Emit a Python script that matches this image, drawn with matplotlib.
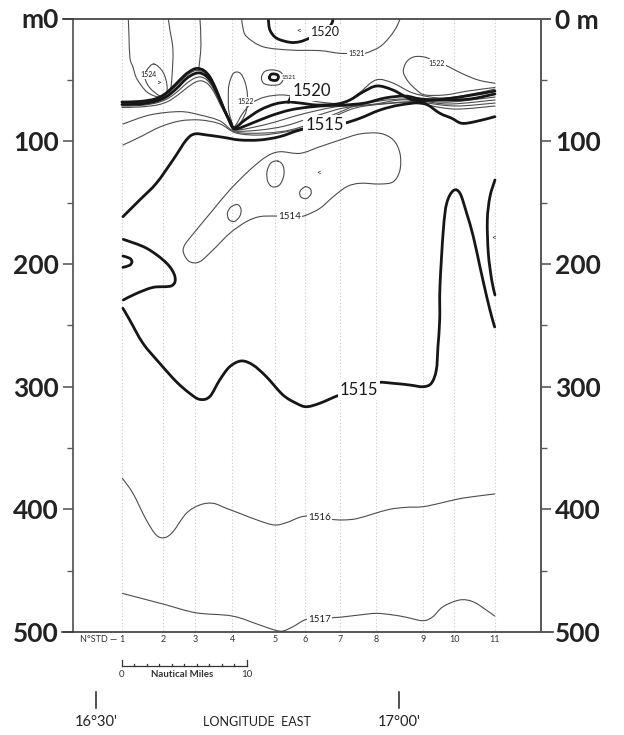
import matplotlib
matplotlib.use("Agg")
import matplotlib.pyplot as plt
from matplotlib.path import Path
from matplotlib.patches import PathPatch

plt.rcParams['font.family'] = ['Lato', 'DejaVu Sans']

# ---------------- data (x = distance in nautical miles from station 1, y = depth m)
stations = [1, 2, 3, 4, 5, 6, 7, 8, 9, 10, 11]
station_nm = [0.0, 3.3, 5.9, 8.85, 12.24, 14.64, 17.44, 20.37, 24.1, 26.62, 29.84]
depth_ticks = [0, 100, 200, 300, 400, 500]
left_labels = ['m0', '100', '200', '300', '400', '500']
right_labels = ['0 m', '100', '200', '300', '400', '500']
lon_labels = ["16°30'", "17°00'"]
lon_nm = [-2.05, 22.2]

# deep contours
c1517 = [(0.05, 468.5), (3.30, 477.2), (5.92, 484.3), (8.85, 487.0), (11.04, 494.3), (12.24, 498.4),
         (12.90, 499.2), (13.70, 495.7), (14.77, 489.7), (15.84, 489.7), (16.98, 488.2), (17.44, 488.0),
         (19.04, 486.1), (20.37, 484.8), (21.70, 486.1), (22.77, 488.0), (24.10, 490.8), (24.90, 487.5),
         (25.70, 479.4), (27.04, 473.9), (28.10, 475.3), (29.17, 482.1), (29.84, 487.0)]
c1516 = [(0.05, 374.7), (0.90, 387.0), (1.97, 408.7), (2.77, 421.0), (3.44, 423.1), (4.10, 418.3),
         (5.17, 403.3), (6.24, 396.5), (7.30, 395.1), (8.37, 399.2), (9.44, 403.3), (11.04, 409.5),
         (12.24, 412.8), (13.17, 410.9), (14.24, 406.5), (14.90, 405.5), (15.84, 406.5), (16.77, 408.2),
         (17.70, 408.7), (18.77, 407.7), (20.10, 403.8), (21.44, 400.0), (22.77, 398.4), (24.10, 397.9),
         (25.44, 395.1), (26.77, 391.9), (28.10, 389.7), (29.84, 387.5)]
c1515_deep = [(0.10, 236.2), (0.64, 245.7), (1.70, 264.7), (3.04, 281.0), (4.37, 296.0), (5.44, 305.5),
              (6.24, 310.4), (7.04, 308.2), (7.84, 294.6), (8.64, 283.8), (9.57, 279.1), (10.50, 282.4),
              (11.57, 291.9), (12.90, 306.8), (13.97, 313.6), (14.77, 316.4), (15.84, 313.6), (17.44, 306.8),
              (18.90, 302.8), (20.37, 296.8), (21.70, 297.3), (23.04, 298.7), (24.10, 300.1), (24.77, 297.3),
              (25.17, 286.5), (25.30, 267.5), (25.44, 245.7), (25.46, 218.6), (25.73, 172.4), (26.00, 150.6),
              (26.53, 140.3), (27.06, 142.4), (27.60, 158.8), (28.13, 177.8), (28.66, 202.3), (29.20, 226.7),
              (29.60, 243.0), (29.84, 251.4)]
c1515_east = [(29.86, 131.6), (29.46, 145.2), (29.25, 164.2), (29.33, 191.4), (29.60, 213.1), (29.86, 225.3)]
c1515_lobe = [(0.13, 180.0), (2.0, 187.3), (3.6, 199.5), (4.26, 210.4), (4.0, 217.8), (2.53, 219.1),
              (1.2, 224.0), (0.13, 229.4)]
c1515_small = [(0.1, 193.6), (0.64, 195.4), (0.82, 198.2), (0.64, 201.1), (0.1, 202.8)]
c1515_upper = [(0.10, 161.5), (1.44, 147.9), (2.77, 134.3), (4.10, 115.3), (5.17, 99.0), (5.84, 94.1),
               (6.77, 94.9), (8.10, 96.8), (9.44, 99.0), (11.04, 99.0), (12.64, 96.3), (14.24, 90.9),
               (16.10, 86.8), (17.73, 85.4), (19.06, 81.3), (20.66, 74.6), (22.26, 70.5), (24.13, 69.1),
               (25.46, 77.3), (26.40, 81.3), (27.20, 85.4), (28.26, 84.1), (29.86, 80.0)]
c1514 = [(13.44, 161.5), (12.37, 161.0), (11.04, 161.5), (9.97, 165.6), (8.64, 175.1), (7.30, 188.7),
         (6.24, 198.2), (5.44, 198.2), (4.96, 191.4), (5.04, 184.6), (5.97, 172.4), (7.30, 156.1),
         (8.64, 139.8), (10.24, 123.5), (11.57, 112.6), (12.64, 108.6), (14.26, 109.9), (15.86, 104.5),
         (17.46, 99.0), (19.06, 94.1), (20.66, 93.6), (21.73, 99.0), (22.26, 109.9), (22.26, 123.5),
         (21.73, 133.0), (20.66, 134.9), (19.06, 134.3), (18.0, 137.1), (16.93, 145.2), (15.86, 154.7),
         (14.80, 160.1), (14.26, 161.5), (13.44, 161.5)]
c1514_a = [(12.50, 116.2), (12.90, 119.8), (12.98, 127.2), (12.66, 135.3), (12.10, 137.3), (11.70, 133.2),
           (11.62, 125.0), (11.94, 117.7), (12.50, 116.2)]
c1514_b = [(9.26, 151.6), (9.54, 155.2), (9.46, 160.9), (9.02, 165.4), (8.58, 163.8), (8.46, 158.5),
           (8.74, 153.6), (9.26, 151.6)]
c1514_c = [(14.69, 137.1), (15.10, 139.0), (15.14, 143.1), (14.78, 146.7), (14.34, 145.5), (14.26, 141.0),
           (14.69, 137.1)]

# surface layer contours
top_u = [(0.53, 0.4), (0.58, 13.4), (0.66, 32.2), (0.90, 39.5), (1.22, 49.3), (2.02, 59.9), (2.90, 64.0),
         (3.46, 63.7), (3.86, 59.9), (4.02, 47.7), (4.10, 25.7), (3.86, 9.4), (3.73, 0.4)]
top_mid = [(6.26, 0.4), (6.34, 21.6), (6.18, 40.3)]
c1524 = [(2.58, 37.1), (2.02, 42.0), (1.86, 48.5), (2.26, 56.6), (3.06, 63.2), (3.54, 62.3), (3.62, 54.2),
         (3.30, 43.6), (2.58, 37.1)]
c1520_top = [(11.73, 0.4), (11.86, 9.4), (12.40, 16.1), (13.46, 19.4), (14.26, 18.9), (15.06, 15.9),
             (16.26, 11.0), (16.82, 3.7), (16.88, 0.0)]
c1521_top = [(9.60, 0.4), (9.70, 7.7), (10.0, 14.8), (11.30, 23.0), (13.46, 25.7), (15.86, 26.2),
             (17.46, 28.4), (18.66, 28.4), (19.46, 28.4), (20.66, 23.0), (21.46, 14.8), (22.0, 6.7), (22.26, 0.4)]
c1521_core = [(11.82, 47.9), (11.94, 45.6), (12.18, 45.2), (12.46, 46.0), (12.54, 47.9), (12.42, 50.1),
              (12.18, 50.5), (11.90, 49.7), (11.82, 47.9)]
c1521_ring = [(11.18, 48.2), (11.44, 43.2), (12.02, 41.9), (12.70, 43.6), (12.93, 48.5), (12.66, 53.4),
              (12.02, 54.4), (11.38, 53.0), (11.18, 48.2)]
c1522_west = [(8.93, 88.4), (8.58, 76.2), (8.53, 64.8), (8.58, 54.2), (8.93, 44.8), (9.46, 44.4), (9.86, 51.7),
              (10.06, 62.3), (9.98, 74.6), (9.54, 84.4), (9.02, 89.2)]
c1522_east = [(29.86, 52.8), (28.50, 50.1), (27.20, 44.7), (25.86, 37.9), (25.20, 36.5), (24.40, 31.9),
              (23.46, 31.1), (22.80, 35.2), (22.53, 43.4), (22.93, 51.5), (23.60, 58.3), (24.26, 62.3),
              (25.86, 62.3), (27.70, 59.1), (29.86, 56.2)]
# thermocline bundle
b1520 = [(0.02, 68.1), (1.46, 67.6), (2.66, 65.6), (3.46, 61.5), (4.26, 54.2), (5.06, 46.0), (5.70, 41.6),
         (6.10, 40.7), (6.58, 42.4), (7.06, 47.7), (7.54, 57.5), (8.02, 69.7), (8.50, 81.1), (8.98, 89.2),
         (9.86, 82.7), (11.06, 74.6), (12.26, 69.7), (13.30, 68.1), (14.26, 68.9), (15.62, 70.5),
         (17.22, 69.7), (18.26, 66.4), (19.30, 59.9), (20.42, 55.0), (21.70, 58.3), (23.30, 66.4),
         (24.90, 66.4), (27.06, 64.0), (29.86, 59.1)]
b_a = [(0.02, 68.9), (1.46, 68.5), (2.66, 66.4), (3.46, 62.8), (4.26, 55.8), (5.06, 47.7), (5.70, 43.2),
       (6.18, 42.4), (6.66, 44.4), (7.14, 50.1), (7.62, 59.9), (8.10, 71.3), (8.58, 81.9), (8.98, 88.4),
       (9.70, 77.0), (10.42, 68.9), (11.46, 64.0), (12.90, 62.3), (14.26, 64.8), (15.86, 68.1), (17.70, 68.9),
       (18.90, 61.5), (20.34, 50.1), (21.70, 52.6), (23.30, 60.7), (25.46, 64.8), (27.62, 62.3), (29.86, 57.5)]
b_b = [(0.02, 70.1), (1.46, 69.7), (2.66, 67.6), (3.54, 64.0), (4.34, 57.5), (5.14, 49.3), (5.78, 45.2),
       (6.26, 44.4), (6.74, 46.8), (7.22, 52.6), (7.70, 62.3), (8.18, 73.8), (8.66, 83.5), (9.06, 90.0),
       (10.26, 86.0), (11.86, 79.5), (13.46, 74.6), (15.06, 72.1), (16.66, 70.9), (17.86, 70.5), (19.46, 68.9),
       (21.06, 64.8), (22.66, 63.2), (23.94, 65.6), (25.86, 66.4), (27.86, 65.6), (29.86, 61.5)]
b_c = [(0.02, 71.3), (1.46, 70.9), (2.74, 68.9), (3.62, 65.6), (4.42, 59.9), (5.22, 52.6), (5.86, 48.5),
       (6.34, 47.7), (6.82, 50.1), (7.30, 56.6), (7.78, 66.4), (8.26, 76.2), (8.74, 85.2), (9.06, 90.9),
       (10.66, 88.4), (12.26, 84.4), (13.86, 79.5), (15.46, 75.4), (17.06, 72.1), (18.10, 71.3), (19.86, 70.5),
       (21.86, 68.9), (23.94, 67.2), (26.26, 68.1), (29.86, 64.0)]
b_d = [(0.02, 72.5), (1.46, 72.1), (2.82, 70.5), (3.70, 67.6), (4.50, 62.3), (5.30, 55.8), (5.94, 51.7),
       (6.42, 50.9), (6.90, 53.4), (7.38, 59.9), (7.86, 69.7), (8.34, 78.6), (8.82, 86.8), (9.06, 91.7),
       (11.06, 90.9), (13.06, 87.6), (15.06, 81.1), (17.06, 74.6), (18.26, 72.1), (20.26, 69.7), (22.26, 66.4),
       (23.94, 67.2), (26.26, 69.7), (29.86, 66.4)]
b_e = [(0.10, 86.0), (2.26, 78.6), (4.66, 75.9), (6.26, 78.6), (7.86, 83.5), (9.14, 92.5), (11.46, 93.3),
       (13.46, 90.9), (15.46, 84.4), (17.46, 76.2), (18.66, 71.3), (20.66, 67.2), (22.66, 65.6), (23.94, 68.1),
       (26.66, 71.3), (29.86, 68.9)]
b_f = [(0.10, 103.1), (1.46, 96.6), (3.06, 88.4), (4.66, 83.5), (6.26, 82.7), (7.86, 85.9), (9.14, 93.3),
       (11.06, 95.0), (13.06, 92.5), (15.06, 87.6), (17.06, 79.5), (18.66, 73.0), (20.66, 69.7), (22.66, 68.1),
       (23.94, 69.7), (26.66, 73.8), (29.86, 71.3)]
leader_1520 = [(13.33, 68.3), (13.78, 59.1)]

thick_lines = [c1515_deep, c1515_east, c1515_lobe, c1515_small, c1515_upper, c1520_top, b1520, b_b,
               c1521_core, leader_1520]
thin_lines = [c1517, c1516, c1514, c1514_a, c1514_b, c1514_c, top_u, top_mid, c1524, c1521_top,
              c1521_ring, c1522_west, c1522_east, b_a, b_c, b_d, b_e, b_f]

# labels: (text, x, depth, size)
contour_labels = [
    ('1517', 15.84, 489.7, 7), ('1516', 15.84, 406.5, 7), ('1515', 18.97, 302.8, 12),
    ('1514', 13.44, 161.5, 7), ('1515', 16.22, 86.8, 12), ('1520', 15.2, 58.7, 12),
    ('1520', 16.30, 11.4, 9), ('1521', 18.77, 28.4, 5), ('1521', 13.38, 47.7, 4.5),
    ('1522', 25.20, 36.5, 5), ('1522', 9.90, 67.8, 5), ('1524', 2.13, 46.0, 5),
]
marks = [('<', 14.18, 9.8), ('<', 15.73, 125.3), ('<', 29.73, 178.3), ('>', 2.93, 52.0)]

# ---------------- figure
fig = plt.figure(figsize=(6.24, 7.35), dpi=100)
ax = fig.add_axes([73 / 624, 1 - 632 / 735, 468 / 624, 613.5 / 735])
ax.set_xlim(-3.896, 33.544)
ax.set_ylim(500, 0)
ax.set_facecolor('white')

for s in ['top', 'bottom']:
    ax.spines[s].set_visible(False)
for s in ['left', 'right']:
    ax.spines[s].set_color('#5a5a5a')
    ax.spines[s].set_linewidth(1.3)

ax.set_xticks([])
ax.set_yticks(depth_ticks)
ax.set_yticklabels(left_labels, fontsize=19, fontweight='bold', color='#222')
ax.set_yticks(range(50, 500, 100), minor=True)
ax.tick_params(axis='y', which='major', length=7, width=1.2, color='#5a5a5a', pad=3, direction='out')
ax.tick_params(axis='y', which='minor', length=4, width=1.0, color='#5a5a5a', direction='out')

ax2 = ax.twinx()
ax2.set_ylim(500, 0)
for s in ['top', 'bottom', 'left']:
    ax2.spines[s].set_visible(False)
ax2.spines['right'].set_color('#5a5a5a')
ax2.spines['right'].set_linewidth(1.3)
ax2.set_yticks(depth_ticks)
ax2.set_yticklabels(right_labels, fontsize=19, fontweight='bold', color='#222')
ax2.set_yticks(range(50, 500, 100), minor=True)
ax2.tick_params(axis='y', which='major', length=7, width=1.2, color='#5a5a5a', pad=3, direction='out')
ax2.tick_params(axis='y', which='minor', length=4, width=1.0, color='#5a5a5a', direction='out')

# frame lines extending beyond the axes
ax.plot([-4.70, 34.26], [0, 0], color='#3a3a3a', lw=1.2, clip_on=False, zorder=6)
ax.plot([-4.78, 34.50], [500, 500], color='#3a3a3a', lw=1.2, clip_on=False, zorder=6)

# station dotted lines
for s in station_nm:
    ax.plot([s, s], [0, 500], color='#c8c8c8', lw=0.8, ls=(0, (1, 2)), zorder=1)


def smooth_path(pts):
    """Catmull-Rom curve through the read points, drawn as cubic Bezier segments."""
    closed = len(pts) > 3 and pts[0] == pts[-1]
    p = list(pts[:-1]) if closed else list(pts)
    n = len(p)
    if n < 3:
        return Path(p)
    verts = [p[0]]
    codes = [Path.MOVETO]
    segs = n if closed else n - 1
    for i in range(segs):
        if closed:
            p0, p1, p2, p3 = p[(i - 1) % n], p[i], p[(i + 1) % n], p[(i + 2) % n]
        else:
            p0, p1, p2, p3 = p[max(i - 1, 0)], p[i], p[i + 1], p[min(i + 2, n - 1)]
        c1 = (p1[0] + (p2[0] - p0[0]) / 6.0, p1[1] + (p2[1] - p0[1]) / 6.0)
        c2 = (p2[0] - (p3[0] - p1[0]) / 6.0, p2[1] - (p3[1] - p1[1]) / 6.0)
        verts += [c1, c2, p2]
        codes += [Path.CURVE4] * 3
    return Path(verts, codes)


def draw(line, lw, color):
    patch = PathPatch(smooth_path(line), fill=False, lw=lw, edgecolor=color,
                      capstyle='round', joinstyle='round', zorder=3)
    ax.add_patch(patch)


for ln in thin_lines:
    draw(ln, 0.8, '#4d4d4d')
for ln in thick_lines:
    draw(ln, 2.0, '#161616')

for txt, x, y, fs in contour_labels:
    ax.text(x, y, txt, fontsize=fs, ha='center', va='center', color='#1a1a1a', zorder=5,
            bbox=dict(boxstyle='square,pad=0.12', fc='white', ec='none'))
for txt, x, y in marks:
    ax.text(x, y, txt, fontsize=6, ha='center', va='center', color='#1a1a1a', zorder=5)

# station numbers
for n, s in zip(stations, station_nm):
    ax.text(s, 506, str(n), fontsize=6.5, ha='center', va='center', color='#333', clip_on=False)
ax.text(-0.35, 506, 'N°STD —', fontsize=6.5, ha='right', va='center', color='#333', clip_on=False)

# scale bar
ax.plot([0, 10], [527.7, 527.7], color='#333', lw=0.9, clip_on=False)
for k in range(11):
    top = 523.0 if k in (0, 10) else 525.7
    ax.plot([k, k], [527.7, top], color='#333', lw=0.9, clip_on=False)
ax.text(0, 534.5, '0', fontsize=7, ha='center', va='center', color='#333', clip_on=False)
ax.text(10, 534.5, '10', fontsize=7, ha='center', va='center', color='#333', clip_on=False)
ax.text(4.84, 534.5, 'Nautical Miles', fontsize=7, fontweight='bold', ha='center', va='center',
        color='#333', clip_on=False)

# longitude
for lab, x in zip(lon_labels, lon_nm):
    ax.plot([x, x], [548.9, 562.0], color='#222', lw=1.1, clip_on=False)
    ax.text(x, 573.6, lab, fontsize=10.5, ha='center', va='center', color='#222', clip_on=False)
ax.text(10.82, 573.6, 'LONGITUDE  EAST', fontsize=9, ha='center', va='center', color='#222',
        clip_on=False)

fig.savefig('out.png', dpi=100, facecolor='white')
